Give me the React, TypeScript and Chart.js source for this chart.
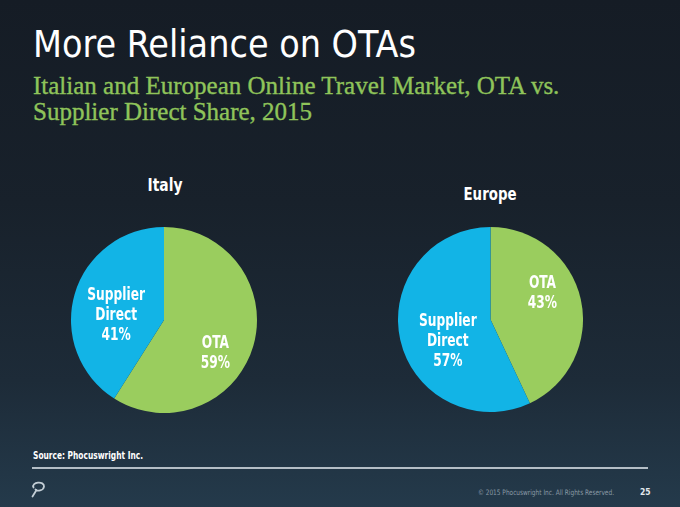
import React, { useEffect, useRef } from "react";
import { Chart, registerables } from "chart.js";

Chart.register(...registerables);

// ---- data ----
const sliceLabels = ["OTA", "Supplier Direct"];
const italyValues = [59, 41];
const europeValues = [43, 57];
const chartTitles = ["Italy", "Europe"];
const pageTitle = "More Reliance on OTAs";
const subtitleLines = [
  "Italian and European Online Travel Market, OTA vs.",
  "Supplier Direct Share, 2015",
];
const sourceText = "Source: Phocuswright Inc.";
const copyrightText = "\u00A9 2015 Phocuswright Inc. All Rights Reserved.";
const pageNumber = "25";

const GREEN = "#9acd5e";
const BLUE = "#12b4e6";
const SANS = "'DejaVu Sans Condensed', 'DejaVu Sans', sans-serif";
const LABEL_FONT = `bold 17px ${SANS}`;

type Place = { frac: number; shift: number };

const sliceLabelPlugin = {
  id: "sliceLabels",
  afterDatasetsDraw(chart: any, _args: any, opts: any) {
    const ctx = chart.ctx;
    const meta = chart.getDatasetMeta(0);
    const data = chart.data.datasets[0].data as number[];
    const places: Place[] = opts.places || [];
    ctx.save();
    ctx.fillStyle = "#ffffff";
    ctx.font = LABEL_FONT;
    ctx.textAlign = "center";
    ctx.textBaseline = "alphabetic";
    meta.data.forEach((arc: any, i: number) => {
      const p = places[i] || { frac: 0.6, shift: 0 };
      const mid = (arc.startAngle + arc.endAngle) / 2 + (p.shift * Math.PI) / 180;
      const r = arc.outerRadius * p.frac;
      const cx = arc.x + Math.cos(mid) * r;
      const cy = arc.y + Math.sin(mid) * r;
      const lines = String(chart.data.labels[i]).split(" ").concat([`${data[i]}%`]);
      const lh = 20;
      const cap = 13;
      const block = cap + (lines.length - 1) * lh;
      const first = cy - block / 2 + cap;
      lines.forEach((ln: string, k: number) => {
        ctx.save();
        ctx.translate(cx, first + k * lh);
        ctx.scale(0.8, 1);
        ctx.fillText(ln, 0, 0);
        ctx.restore();
      });
    });
    ctx.restore();
  },
};

function Pie({ values, places, left, top, size }: { values: number[]; places: Place[]; left: number; top: number; size: number }) {
  const ref = useRef<HTMLCanvasElement>(null);
  useEffect(() => {
    if (!ref.current) return;
    const chart = new Chart(ref.current, {
      type: "pie",
      data: {
        labels: sliceLabels,
        datasets: [
          {
            data: values,
            backgroundColor: [GREEN, BLUE],
            borderWidth: 0,
          },
        ],
      },
      options: {
        responsive: false,
        animation: false,
        devicePixelRatio: 1,
        layout: { padding: 0 },
        plugins: {
          legend: { display: false },
          tooltip: { enabled: false },
          sliceLabels: { places },
        } as any,
      },
      plugins: [sliceLabelPlugin],
    });
    return () => chart.destroy();
  }, []);
  return (
    <canvas
      ref={ref}
      width={size}
      height={size}
      style={{ position: "absolute", left, top, width: size, height: size }}
    />
  );
}

export default function App() {
  return (
    <div
      style={{
        position: "fixed",
        left: 0,
        top: 0,
        width: 680,
        height: 507,
        overflow: "hidden",
        background: "linear-gradient(180deg, #151c25 0%, #18212b 40%, #1d2b38 75%, #243a4b 100%)",
      }}
    >
      <svg width={680} height={507} style={{ position: "absolute", left: 0, top: 0 }}>
        <text x={33} y={57} fill="#ffffff" textLength={383} lengthAdjust="spacingAndGlyphs" style={{ font: `37px ${SANS}` }}>
          {pageTitle}
        </text>
        {subtitleLines.map((t, i) => (
          <text
            key={i}
            x={33}
            y={94 + i * 26}
            fill="#8fc45a"
            stroke="#8fc45a"
            strokeWidth={0.35}
            style={{ font: "25px 'Liberation Serif', serif" }}
          >
            {t}
          </text>
        ))}
        <text x={165} y={191} fill="#ffffff" textAnchor="middle" textLength={35} lengthAdjust="spacingAndGlyphs" style={{ font: `bold 18px ${SANS}` }}>
          {chartTitles[0]}
        </text>
        <text x={490} y={200} fill="#ffffff" textAnchor="middle" textLength={53} lengthAdjust="spacingAndGlyphs" style={{ font: `bold 18px ${SANS}` }}>
          {chartTitles[1]}
        </text>
        <text x={33} y={459} fill="#ffffff" textLength={110} lengthAdjust="spacingAndGlyphs" style={{ font: `bold 10.5px ${SANS}` }}>
          {sourceText}
        </text>
        <line x1={32} y1={468} x2={648} y2={468} stroke="#e6edf2" strokeWidth={1.5} />
        <path
          d="M33.5 487.5 C31 482 44.5 480.5 44 486.5 C43.5 491 37 491.5 35.5 489.5 M36.5 490 L32.5 496.5"
          fill="none"
          stroke="#c3ced6"
          strokeWidth={1.8}
          strokeLinecap="round"
        />
        <text x={478} y={495} fill="#8a9aa6" textLength={136} lengthAdjust="spacingAndGlyphs" style={{ font: `7.5px ${SANS}` }}>
          {copyrightText}
        </text>
        <text x={640} y={495} fill="#e3e9ed" style={{ font: `bold 8.5px ${SANS}` }}>
          {pageNumber}
        </text>
      </svg>
      <Pie
        values={italyValues}
        places={[
          { frac: 0.645, shift: 15 },
          { frac: 0.52, shift: -8 },
        ]}
        left={71}
        top={227}
        size={186}
      />
      <Pie
        values={europeValues}
        places={[
          { frac: 0.64, shift: -16 },
          { frac: 0.51, shift: -12.6 },
        ]}
        left={398}
        top={227}
        size={185}
      />
    </div>
  );
}
